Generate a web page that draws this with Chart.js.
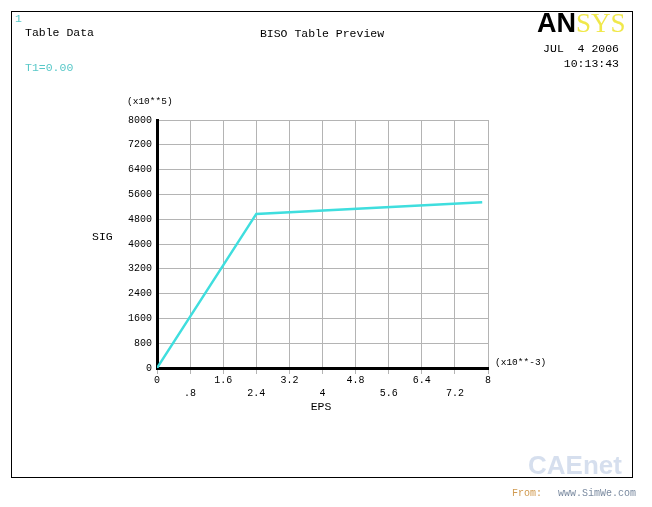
<!DOCTYPE html>
<html>
<head>
<meta charset="utf-8">
<script src="https://cdn.jsdelivr.net/npm/chart.js@4/dist/chart.umd.min.js"></script>
<style>
  html, body { margin: 0; padding: 0; background: #fff; }
  #wrap { position: relative; width: 652px; height: 507px; }
</style>
</head>
<body>
<div id="wrap"><canvas id="biso" width="652" height="507"></canvas></div>
<script>
/* ---- data (EPS in 1e-3, SIG in 1e5) ---- */
const epsValues = [0, 2.4, 7.86];
const sigValues = [0, 4970, 5350];
const xTicks = [0, 0.8, 1.6, 2.4, 3.2, 4, 4.8, 5.6, 6.4, 7.2, 8];
const xTickLabels = ['0', '.8', '1.6', '2.4', '3.2', '4', '4.8', '5.6', '6.4', '7.2', '8'];
const yTicks = [0, 800, 1600, 2400, 3200, 4000, 4800, 5600, 6400, 7200, 8000];

const mono = "'Liberation Mono', 'DejaVu Sans Mono', monospace";
const lineCyan = '#3fdede';

// ANSYS style header / footer texts, drawn on the canvas
const decorPlugin = {
  id: 'decor',
  beforeDraw(chart) {
    const c = chart.ctx;
    c.save();
    c.fillStyle = '#fff';
    c.fillRect(0, 0, chart.width, chart.height);
    c.restore();
  },
  afterDraw(chart) {
    const c = chart.ctx;
    c.save();
    // frame
    c.strokeStyle = '#000';
    c.lineWidth = 1;
    c.strokeRect(11.5, 11.5, 621, 466);

    c.textBaseline = 'middle';
    c.font = '11.5px ' + mono;
    c.fillStyle = '#58c8c8';
    c.fillText('1', 15, 19);
    c.fillText('T1=0.00', 25, 68);

    c.fillStyle = '#000';
    c.fillText('Table Data', 25, 33);
    c.textAlign = 'center';
    c.fillText('BISO Table Preview', 322, 34);
    c.textAlign = 'right';
    c.fillText('JUL  4 2006', 619, 49);
    c.fillText('10:13:43', 619, 64);

    // logo
    c.textAlign = 'left';
    c.font = 'bold 27px "Liberation Sans", Arial, sans-serif';
    c.fillStyle = '#000';
    c.fillText('AN', 537, 25);
    c.font = '27px "Liberation Serif", serif';
    c.fillStyle = '#f0e84a';
    c.fillText('SYS', 576, 25);

    // axis annotations
    c.fillStyle = '#000';
    c.font = '9.5px ' + mono;
    c.fillText('(x10**5)', 127, 101);
    c.fillText('(x10**-3)', 495, 362);
    c.font = '11.5px ' + mono;
    c.fillText('SIG', 92, 237);
    c.textAlign = 'center';
    c.fillText('EPS', 321, 407);

    // source watermark
    c.textAlign = 'left';
    c.font = 'bold 26px "Liberation Sans", sans-serif';
    c.fillStyle = 'rgba(120,150,200,0.3)';
    c.fillText('CAEnet', 528, 467);
    c.font = '10px ' + mono;
    c.fillStyle = '#d09a50';
    c.fillText('From:', 512, 493);
    c.fillStyle = '#7a8aa0';
    c.fillText('www.SimWe.com', 558, 493);
    c.restore();
  }
};

new Chart(document.getElementById('biso'), {
  type: 'scatter',
  data: {
    datasets: [{
      label: 'BISO',
      data: epsValues.map((x, i) => ({ x: x, y: sigValues[i] })),
      showLine: true,
      borderColor: lineCyan,
      borderWidth: 2.5,
      pointRadius: 0,
      tension: 0,
    }],
  },
  options: {
    responsive: false,
    animation: false,
    events: [],
    layout: { padding: { left: 0, top: 120, right: 164, bottom: 0 } },
    plugins: { legend: { display: false }, tooltip: { enabled: false } },
    scales: {
      x: {
        type: 'linear',
        min: 0, max: 8,
        afterBuildTicks(scale) { scale.ticks = xTicks.map(v => ({ value: v })); },
        afterFit(scale) { scale.height = 139; },
        grid: { color: '#b4b4b4', lineWidth: 1, tickLength: 6, tickColor: '#b4b4b4' },
        border: { color: '#000', width: 3 },
        ticks: {
          color: '#000',
          padding: 0,
          maxRotation: 0,
          autoSkip: false,
          font: { family: mono, size: 10, lineHeight: 1.3 },
          callback(v, i) { return i % 2 ? ['', xTickLabels[i]] : xTickLabels[i]; },
        },
      },
      y: {
        type: 'linear',
        min: 0, max: 8000,
        afterBuildTicks(scale) { scale.ticks = yTicks.map(v => ({ value: v })); },
        afterFit(scale) { scale.width = 157; },
        grid: { color: '#b4b4b4', lineWidth: 1, drawTicks: false },
        border: { color: '#000', width: 3 },
        ticks: {
          color: '#000',
          padding: 5,
          autoSkip: false,
          font: { family: mono, size: 10 },
          callback(v) { return String(v); },
        },
      },
    },
  },
  plugins: [decorPlugin],
});
</script>
</body>
</html>
